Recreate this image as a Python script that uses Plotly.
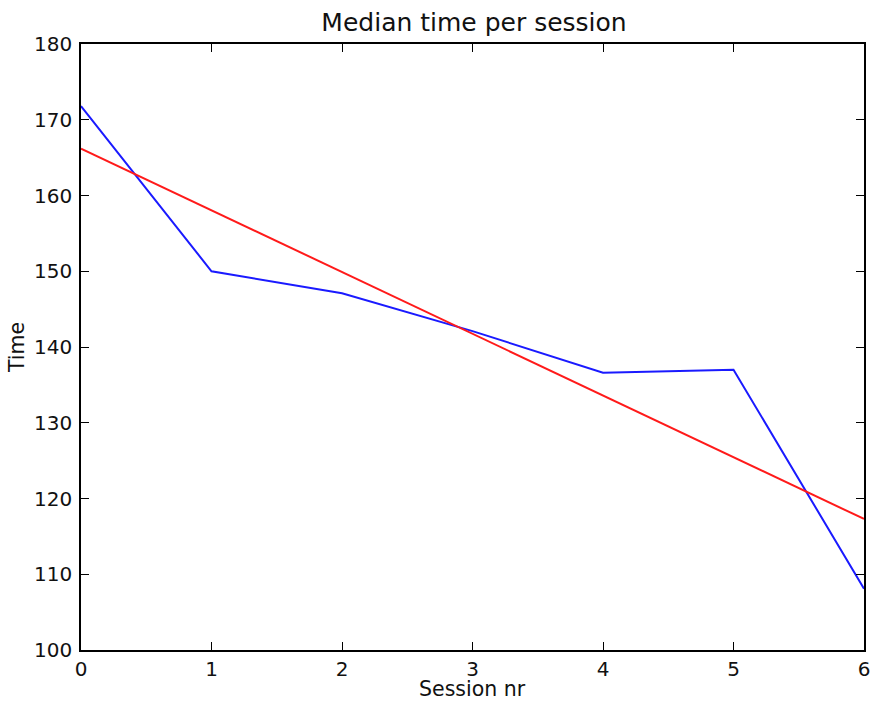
import plotly.graph_objects as go

sessions = [0, 1, 2, 3, 4, 5, 6]
median_time = [171.8, 150.0, 147.1, 142.1, 136.6, 137.0, 108.1]
fit_x = [0, 6]
fit_y = [166.2, 117.3]
x_ticks = [0, 1, 2, 3, 4, 5, 6]
y_ticks = [100, 110, 120, 130, 140, 150, 160, 170, 180]

FONT = "DejaVu Sans"

fig = go.Figure()
fig.add_trace(go.Scatter(x=sessions, y=median_time, mode="lines",
                         line=dict(color="#1a1aff", width=2), showlegend=False))
fig.add_trace(go.Scatter(x=fit_x, y=fit_y, mode="lines",
                         line=dict(color="#ff1a1a", width=2), showlegend=False))

axis_common = dict(showline=True, linecolor="black", linewidth=1.5, mirror="ticks",
                   ticks="inside", ticklen=8, tickwidth=1, tickcolor="black",
                   showgrid=False, zeroline=False,
                   tickfont=dict(family=FONT, size=20, color="#111111"))

fig.update_xaxes(range=[0, 6], tickvals=x_ticks, ticklabelstandoff=0,
                 automargin=False, **axis_common)
fig.update_yaxes(range=[100, 180], tickvals=y_ticks, ticklabelstandoff=3,
                 title=dict(text="Time", font=dict(family=FONT, size=20.5, color="#111111"),
                            standoff=4),
                 automargin=False, **axis_common)

fig.add_annotation(text="Session nr", xref="paper", yref="paper", x=0.5, y=0,
                   xanchor="center", yanchor="middle", yshift=-39, showarrow=False,
                   borderpad=0, font=dict(family=FONT, size=20.5, color="#111111"))

fig.update_layout(
    width=873, height=702,
    margin=dict(l=81, r=9, t=44, b=52),
    paper_bgcolor="white", plot_bgcolor="white",
    title=dict(text="Median time per session", x=0.543, xanchor="center",
               y=0.968, yanchor="middle",
               font=dict(family=FONT, size=25, color="#111111")),
    font=dict(family=FONT, color="#111111"),
)

fig.write_html("out.html", config={"displayModeBar": False},
               post_script="document.body.style.margin='0px';document.body.style.overflow='hidden';")
